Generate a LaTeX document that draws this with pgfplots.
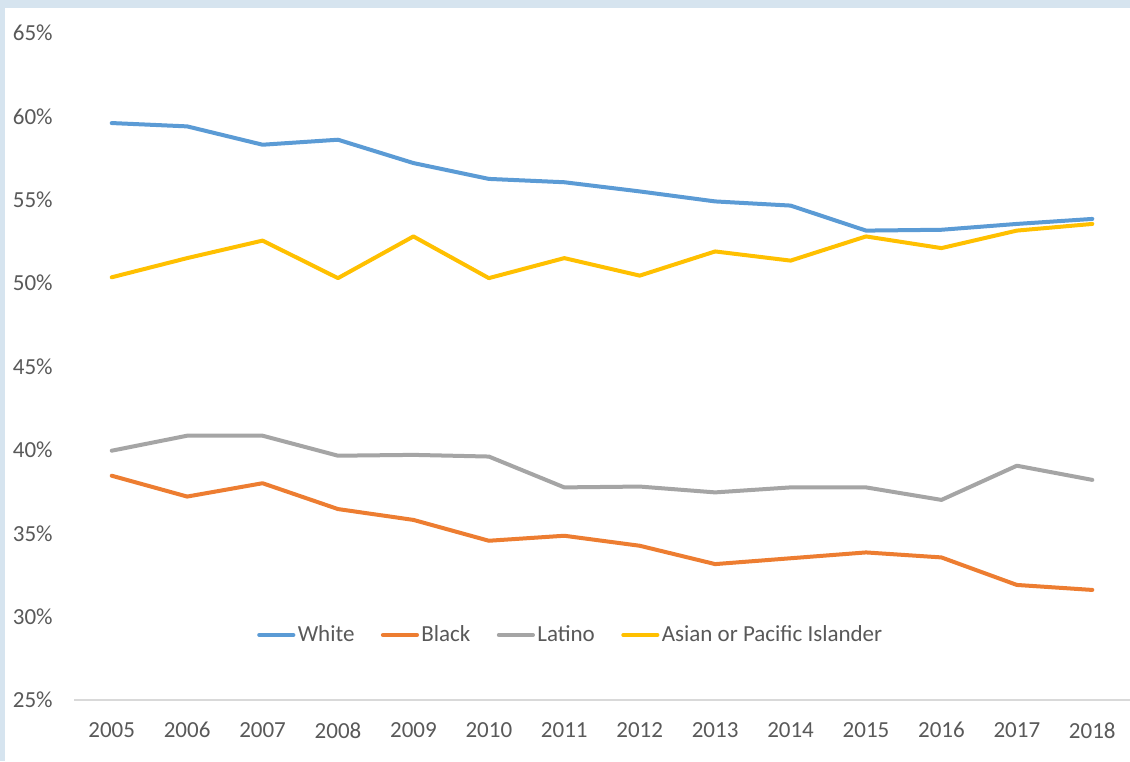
\documentclass[border=0pt]{standalone}
\usepackage{fontspec}
\setmainfont{Carlito}
\usepackage{pgfplots}
\pgfplotsset{compat=1.18}
\definecolor{cWhite}{HTML}{5B9BD5}
\definecolor{cBlack}{HTML}{ED7D31}
\definecolor{cLatino}{HTML}{A5A5A5}
\definecolor{cAsian}{HTML}{FFC000}
\definecolor{txt}{HTML}{595959}
\definecolor{gridc}{HTML}{D9D9D9}
\definecolor{bord}{HTML}{D6E4EF}
\begin{document}
\begin{tikzpicture}
\path[use as bounding box] (0,0) rectangle (565pt,380.5pt);
\fill[white] (0,0) rectangle (565pt,380.5pt);
\fill[bord] (0,0) rectangle (2.5pt,380.5pt);
\fill[bord] (0,376.5pt) rectangle (565pt,380.5pt);
\begin{axis}[
  at={(37pt,30.5pt)}, anchor=south west,
  scale only axis, width=528pt, height=333.5pt,
  xmin=2004.5, xmax=2018.5, ymin=25, ymax=65,
  xtick={2005,2006,...,2018},
  xticklabels={2005,2006,2007,2008,2009,2010,2011,2012,2013,2014,2015,2016,2017,2018},
  ytick={25,30,...,65},
  yticklabels={25\%,30\%,35\%,40\%,45\%,50\%,55\%,60\%,65\%},
  axis x line*=bottom, axis y line*=left,
  y axis line style={draw=none},
  x axis line style={draw=gridc, line width=0.75pt, -},
  major tick length=0pt,
  tick label style={font=\fontsize{11.5}{14}\selectfont, text=txt},
  yticklabel style={anchor=east, inner sep=0pt, xshift=-10.5pt},
  xticklabel style={anchor=north, inner sep=0pt, yshift=-11pt},
  legend columns=4,
  legend style={at={(0.4706,0.0975)}, anchor=center, draw=none, fill=none,
    font=\fontsize{11.5}{14}\selectfont, text=txt,
    nodes={inner sep=1.2pt},
    /tikz/every even column/.append style={column sep=12pt}},
  every axis plot/.append style={line width=2pt, line join=round, line cap=round, mark=none},
]
\addplot[cWhite] coordinates {(2005,59.6)(2006,59.4)(2007,58.3)(2008,58.6)(2009,57.2)(2010,56.25)(2011,56.05)(2012,55.5)(2013,54.9)(2014,54.65)(2015,53.15)(2016,53.2)(2017,53.55)(2018,53.85)};
\addlegendentry{White}
\addplot[cBlack] coordinates {(2005,38.45)(2006,37.2)(2007,38.0)(2008,36.45)(2009,35.8)(2010,34.55)(2011,34.85)(2012,34.25)(2013,33.15)(2014,33.5)(2015,33.85)(2016,33.55)(2017,31.9)(2018,31.6)};
\addlegendentry{Black}
\addplot[cLatino] coordinates {(2005,39.95)(2006,40.85)(2007,40.85)(2008,39.65)(2009,39.7)(2010,39.6)(2011,37.75)(2012,37.8)(2013,37.45)(2014,37.75)(2015,37.75)(2016,37.0)(2017,39.05)(2018,38.2)};
\addlegendentry{Latino}
\addplot[cAsian] coordinates {(2005,50.35)(2006,51.5)(2007,52.55)(2008,50.3)(2009,52.8)(2010,50.3)(2011,51.5)(2012,50.45)(2013,51.9)(2014,51.35)(2015,52.8)(2016,52.1)(2017,53.15)(2018,53.55)};
\addlegendentry{Asian or Pacific Islander}
\end{axis}
\end{tikzpicture}
\end{document}
